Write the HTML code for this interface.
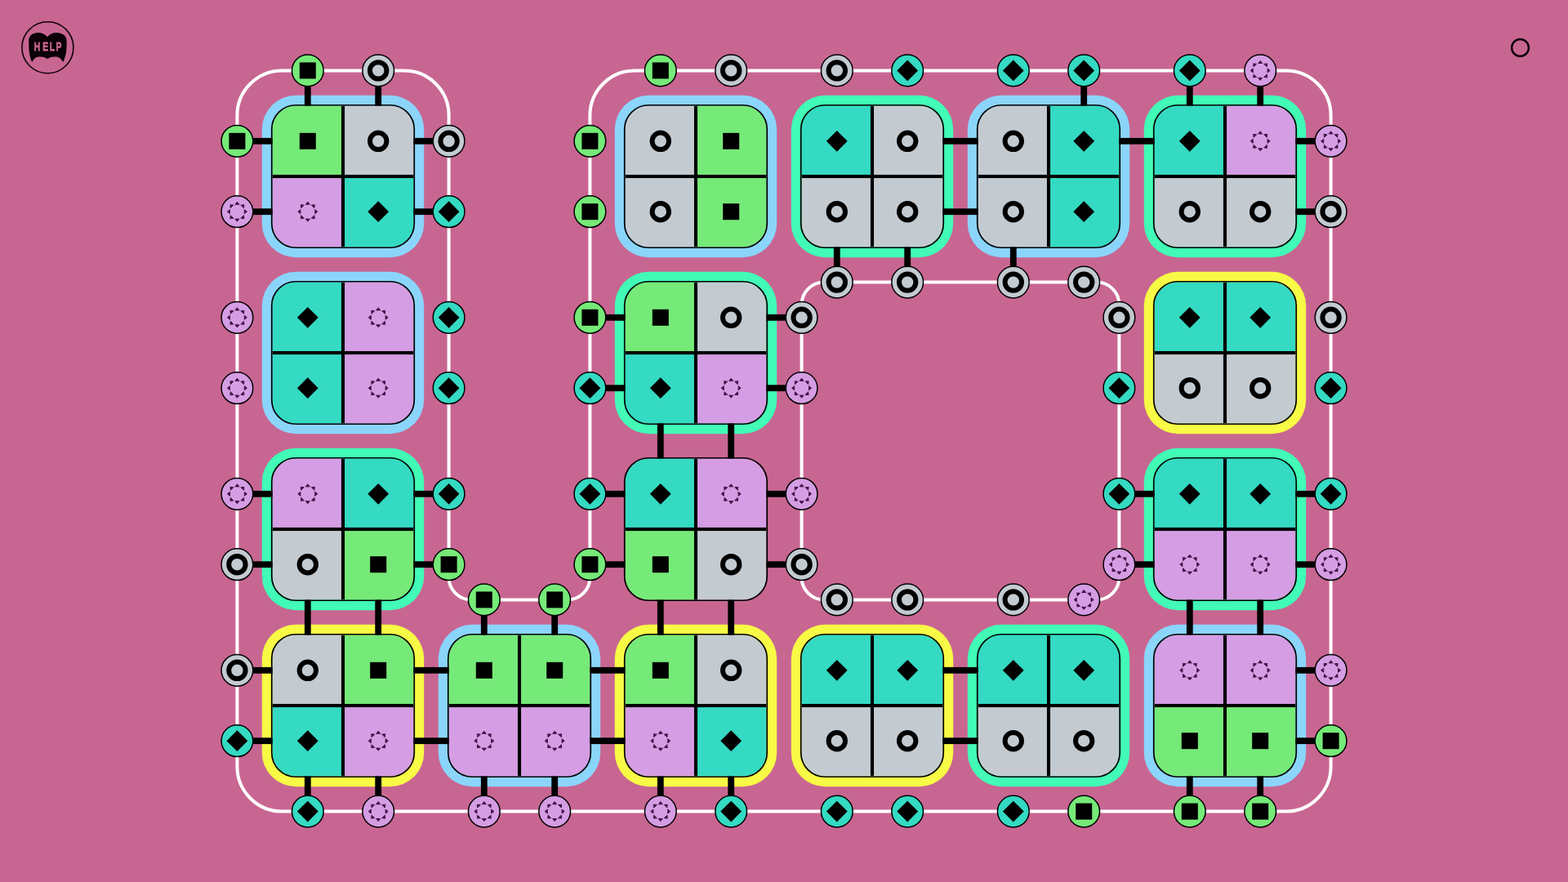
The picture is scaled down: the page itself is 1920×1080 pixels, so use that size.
<!DOCTYPE html>
<html lang="en">
<head>
<meta charset="utf-8">
<title>Puzzle</title>
<style>
html,body{margin:0;padding:0;width:1920px;height:1080px;overflow:hidden;background:#c86692;}
svg{display:block;position:absolute;left:0;top:0;}
text{font-family:"Liberation Sans",sans-serif;}
</style>
</head>
<body>
<svg width="1920" height="1080" viewBox="0 0 1920 1080">
<rect width="1920" height="1080" fill="#c86692"/>
<g fill="none" stroke="#fff" stroke-width="4">
<path d="M290.4 141.4A55 55 0 0 1 345.4 86.4L494.6 86.4A55 55 0 0 1 549.6 141.4L549.6 706.9A27.5 27.5 0 0 0 577.1 734.4L694.9 734.4A27.5 27.5 0 0 0 722.4 706.9L722.4 141.4A55 55 0 0 1 777.4 86.4L1574.6 86.4A55 55 0 0 1 1629.6 141.4L1629.6 938.6A55 55 0 0 1 1574.6 993.6L345.4 993.6A55 55 0 0 1 290.4 938.6Z"/>
<path d="M1009.1 345.6H1342.9A27.5 27.5 0 0 1 1370.4 373.1V706.9A27.5 27.5 0 0 1 1342.9 734.4H1009.1A27.5 27.5 0 0 1 981.6 706.9V373.1A27.5 27.5 0 0 1 1009.1 345.6Z"/>
</g>
<g>
<rect x="320.8" y="116.8" width="198.4" height="198.4" rx="41.5" fill="#8bd5fb"/>
<rect x="752.8" y="116.8" width="198.4" height="198.4" rx="41.5" fill="#8bd5fb"/>
<rect x="968.8" y="116.8" width="198.4" height="198.4" rx="41.5" fill="#42fbb6"/>
<rect x="1184.8" y="116.8" width="198.4" height="198.4" rx="41.5" fill="#8bd5fb"/>
<rect x="1400.8" y="116.8" width="198.4" height="198.4" rx="41.5" fill="#42fbb6"/>
<rect x="320.8" y="332.8" width="198.4" height="198.4" rx="41.5" fill="#8bd5fb"/>
<rect x="752.8" y="332.8" width="198.4" height="198.4" rx="41.5" fill="#42fbb6"/>
<rect x="1400.8" y="332.8" width="198.4" height="198.4" rx="41.5" fill="#f8fb45"/>
<rect x="320.8" y="548.8" width="198.4" height="198.4" rx="41.5" fill="#42fbb6"/>
<rect x="1400.8" y="548.8" width="198.4" height="198.4" rx="41.5" fill="#42fbb6"/>
<rect x="320.8" y="764.8" width="198.4" height="198.4" rx="41.5" fill="#f8fb45"/>
<rect x="536.8" y="764.8" width="198.4" height="198.4" rx="41.5" fill="#8bd5fb"/>
<rect x="752.8" y="764.8" width="198.4" height="198.4" rx="41.5" fill="#f8fb45"/>
<rect x="968.8" y="764.8" width="198.4" height="198.4" rx="41.5" fill="#f8fb45"/>
<rect x="1184.8" y="764.8" width="198.4" height="198.4" rx="41.5" fill="#42fbb6"/>
<rect x="1400.8" y="764.8" width="198.4" height="198.4" rx="41.5" fill="#8bd5fb"/>
</g>
<g fill="#000000">
<rect x="372.9" y="86.4" width="7.8" height="45.2"/>
<rect x="459.3" y="86.4" width="7.8" height="45.2"/>
<rect x="1323.3" y="86.4" width="7.8" height="45.2"/>
<rect x="1452.9" y="86.4" width="7.8" height="45.2"/>
<rect x="1539.3" y="86.4" width="7.8" height="45.2"/>
<rect x="290.4" y="168.9" width="45.2" height="7.8"/>
<rect x="290.4" y="255.3" width="45.2" height="7.8"/>
<rect x="290.4" y="600.9" width="45.2" height="7.8"/>
<rect x="290.4" y="687.3" width="45.2" height="7.8"/>
<rect x="290.4" y="816.9" width="45.2" height="7.8"/>
<rect x="290.4" y="903.3" width="45.2" height="7.8"/>
<rect x="372.9" y="948.4" width="7.8" height="45.2"/>
<rect x="459.3" y="948.4" width="7.8" height="45.2"/>
<rect x="588.9" y="948.4" width="7.8" height="45.2"/>
<rect x="675.3" y="948.4" width="7.8" height="45.2"/>
<rect x="804.9" y="948.4" width="7.8" height="45.2"/>
<rect x="891.3" y="948.4" width="7.8" height="45.2"/>
<rect x="1452.9" y="948.4" width="7.8" height="45.2"/>
<rect x="1539.3" y="948.4" width="7.8" height="45.2"/>
<rect x="1584.4" y="168.9" width="45.2" height="7.8"/>
<rect x="1584.4" y="255.3" width="45.2" height="7.8"/>
<rect x="1584.4" y="600.9" width="45.2" height="7.8"/>
<rect x="1584.4" y="687.3" width="45.2" height="7.8"/>
<rect x="1584.4" y="816.9" width="45.2" height="7.8"/>
<rect x="1584.4" y="903.3" width="45.2" height="7.8"/>
<rect x="504.4" y="168.9" width="45.2" height="7.8"/>
<rect x="504.4" y="255.3" width="45.2" height="7.8"/>
<rect x="504.4" y="600.9" width="45.2" height="7.8"/>
<rect x="504.4" y="687.3" width="45.2" height="7.8"/>
<rect x="588.9" y="734.4" width="7.8" height="45.2"/>
<rect x="675.3" y="734.4" width="7.8" height="45.2"/>
<rect x="722.4" y="384.9" width="45.2" height="7.8"/>
<rect x="722.4" y="471.3" width="45.2" height="7.8"/>
<rect x="722.4" y="600.9" width="45.2" height="7.8"/>
<rect x="722.4" y="687.3" width="45.2" height="7.8"/>
<rect x="1020.9" y="300.4" width="7.8" height="45.2"/>
<rect x="1107.3" y="300.4" width="7.8" height="45.2"/>
<rect x="1236.9" y="300.4" width="7.8" height="45.2"/>
<rect x="936.4" y="384.9" width="45.2" height="7.8"/>
<rect x="936.4" y="471.3" width="45.2" height="7.8"/>
<rect x="936.4" y="600.9" width="45.2" height="7.8"/>
<rect x="936.4" y="687.3" width="45.2" height="7.8"/>
<rect x="1370.4" y="600.9" width="45.2" height="7.8"/>
<rect x="1370.4" y="687.3" width="45.2" height="7.8"/>
<rect x="1152.4" y="168.9" width="47.2" height="7.8"/>
<rect x="1152.4" y="255.3" width="47.2" height="7.8"/>
<rect x="1368.4" y="168.9" width="47.2" height="7.8"/>
<rect x="804.9" y="516.4" width="7.8" height="47.2"/>
<rect x="891.3" y="516.4" width="7.8" height="47.2"/>
<rect x="372.9" y="732.4" width="7.8" height="47.2"/>
<rect x="459.3" y="732.4" width="7.8" height="47.2"/>
<rect x="804.9" y="732.4" width="7.8" height="47.2"/>
<rect x="891.3" y="732.4" width="7.8" height="47.2"/>
<rect x="1452.9" y="732.4" width="7.8" height="47.2"/>
<rect x="1539.3" y="732.4" width="7.8" height="47.2"/>
<rect x="504.4" y="816.9" width="47.2" height="7.8"/>
<rect x="504.4" y="903.3" width="47.2" height="7.8"/>
<rect x="720.4" y="816.9" width="47.2" height="7.8"/>
<rect x="720.4" y="903.3" width="47.2" height="7.8"/>
<rect x="1152.4" y="816.9" width="47.2" height="7.8"/>
<rect x="1152.4" y="903.3" width="47.2" height="7.8"/>
</g>
<clipPath id="t0"><rect x="333.6" y="129.6" width="172.8" height="172.8" rx="28.7"/></clipPath>
<g clip-path="url(#t0)">
<rect x="332.6" y="128.6" width="87.4" height="87.4" fill="#76ea78"/>
<rect x="420" y="128.6" width="87.4" height="87.4" fill="#c3cbd1"/>
<rect x="332.6" y="216" width="87.4" height="87.4" fill="#d59de3"/>
<rect x="420" y="216" width="87.4" height="87.4" fill="#34dac2"/>
<rect x="417.95" y="129.6" width="4.1" height="172.8" fill="#000000"/>
<rect x="333.6" y="213.95" width="172.8" height="4.1" fill="#000000"/>
</g>
<rect x="332.75" y="128.75" width="174.5" height="174.5" rx="29.55" fill="none" stroke="#000000" stroke-width="1.7"/>
<rect x="366.8" y="162.8" width="20" height="20" fill="#000000"/>
<circle cx="463.2" cy="172.8" r="10.2" fill="none" stroke="#000000" stroke-width="6"/>
<path transform="translate(376.8 259.2)" d="M0 -12L2.5 -8.9L-2.5 -8.9ZM8.49 -8.49L8.06 -4.53L4.53 -8.06ZM12 0L8.9 2.5L8.9 -2.5ZM8.49 8.49L4.53 8.06L8.06 4.53ZM0 12L-2.5 8.9L2.5 8.9ZM-8.49 8.49L-8.06 4.53L-4.53 8.06ZM-12 0L-8.9 -2.5L-8.9 2.5ZM-8.49 -8.49L-4.53 -8.06L-8.06 -4.53Z" fill="#43154a" stroke="#43154a" stroke-width="1.0" stroke-linejoin="round"/>
<path d="M463.2 246.3L476.1 259.2L463.2 272.1L450.3 259.2Z" fill="#000000"/>
<clipPath id="t1"><rect x="765.6" y="129.6" width="172.8" height="172.8" rx="28.7"/></clipPath>
<g clip-path="url(#t1)">
<rect x="764.6" y="128.6" width="87.4" height="87.4" fill="#c3cbd1"/>
<rect x="852" y="128.6" width="87.4" height="87.4" fill="#76ea78"/>
<rect x="764.6" y="216" width="87.4" height="87.4" fill="#c3cbd1"/>
<rect x="852" y="216" width="87.4" height="87.4" fill="#76ea78"/>
<rect x="849.95" y="129.6" width="4.1" height="172.8" fill="#000000"/>
<rect x="765.6" y="213.95" width="172.8" height="4.1" fill="#000000"/>
</g>
<rect x="764.75" y="128.75" width="174.5" height="174.5" rx="29.55" fill="none" stroke="#000000" stroke-width="1.7"/>
<circle cx="808.8" cy="172.8" r="10.2" fill="none" stroke="#000000" stroke-width="6"/>
<rect x="885.2" y="162.8" width="20" height="20" fill="#000000"/>
<circle cx="808.8" cy="259.2" r="10.2" fill="none" stroke="#000000" stroke-width="6"/>
<rect x="885.2" y="249.2" width="20" height="20" fill="#000000"/>
<clipPath id="t2"><rect x="981.6" y="129.6" width="172.8" height="172.8" rx="28.7"/></clipPath>
<g clip-path="url(#t2)">
<rect x="980.6" y="128.6" width="87.4" height="87.4" fill="#34dac2"/>
<rect x="1068" y="128.6" width="87.4" height="87.4" fill="#c3cbd1"/>
<rect x="980.6" y="216" width="87.4" height="87.4" fill="#c3cbd1"/>
<rect x="1068" y="216" width="87.4" height="87.4" fill="#c3cbd1"/>
<rect x="1065.95" y="129.6" width="4.1" height="172.8" fill="#000000"/>
<rect x="981.6" y="213.95" width="172.8" height="4.1" fill="#000000"/>
</g>
<rect x="980.75" y="128.75" width="174.5" height="174.5" rx="29.55" fill="none" stroke="#000000" stroke-width="1.7"/>
<path d="M1024.8 159.9L1037.7 172.8L1024.8 185.7L1011.9 172.8Z" fill="#000000"/>
<circle cx="1111.2" cy="172.8" r="10.2" fill="none" stroke="#000000" stroke-width="6"/>
<circle cx="1024.8" cy="259.2" r="10.2" fill="none" stroke="#000000" stroke-width="6"/>
<circle cx="1111.2" cy="259.2" r="10.2" fill="none" stroke="#000000" stroke-width="6"/>
<clipPath id="t3"><rect x="1197.6" y="129.6" width="172.8" height="172.8" rx="28.7"/></clipPath>
<g clip-path="url(#t3)">
<rect x="1196.6" y="128.6" width="87.4" height="87.4" fill="#c3cbd1"/>
<rect x="1284" y="128.6" width="87.4" height="87.4" fill="#34dac2"/>
<rect x="1196.6" y="216" width="87.4" height="87.4" fill="#c3cbd1"/>
<rect x="1284" y="216" width="87.4" height="87.4" fill="#34dac2"/>
<rect x="1281.95" y="129.6" width="4.1" height="172.8" fill="#000000"/>
<rect x="1197.6" y="213.95" width="172.8" height="4.1" fill="#000000"/>
</g>
<rect x="1196.75" y="128.75" width="174.5" height="174.5" rx="29.55" fill="none" stroke="#000000" stroke-width="1.7"/>
<circle cx="1240.8" cy="172.8" r="10.2" fill="none" stroke="#000000" stroke-width="6"/>
<path d="M1327.2 159.9L1340.1 172.8L1327.2 185.7L1314.3 172.8Z" fill="#000000"/>
<circle cx="1240.8" cy="259.2" r="10.2" fill="none" stroke="#000000" stroke-width="6"/>
<path d="M1327.2 246.3L1340.1 259.2L1327.2 272.1L1314.3 259.2Z" fill="#000000"/>
<clipPath id="t4"><rect x="1413.6" y="129.6" width="172.8" height="172.8" rx="28.7"/></clipPath>
<g clip-path="url(#t4)">
<rect x="1412.6" y="128.6" width="87.4" height="87.4" fill="#34dac2"/>
<rect x="1500" y="128.6" width="87.4" height="87.4" fill="#d59de3"/>
<rect x="1412.6" y="216" width="87.4" height="87.4" fill="#c3cbd1"/>
<rect x="1500" y="216" width="87.4" height="87.4" fill="#c3cbd1"/>
<rect x="1497.95" y="129.6" width="4.1" height="172.8" fill="#000000"/>
<rect x="1413.6" y="213.95" width="172.8" height="4.1" fill="#000000"/>
</g>
<rect x="1412.75" y="128.75" width="174.5" height="174.5" rx="29.55" fill="none" stroke="#000000" stroke-width="1.7"/>
<path d="M1456.8 159.9L1469.7 172.8L1456.8 185.7L1443.9 172.8Z" fill="#000000"/>
<path transform="translate(1543.2 172.8)" d="M0 -12L2.5 -8.9L-2.5 -8.9ZM8.49 -8.49L8.06 -4.53L4.53 -8.06ZM12 0L8.9 2.5L8.9 -2.5ZM8.49 8.49L4.53 8.06L8.06 4.53ZM0 12L-2.5 8.9L2.5 8.9ZM-8.49 8.49L-8.06 4.53L-4.53 8.06ZM-12 0L-8.9 -2.5L-8.9 2.5ZM-8.49 -8.49L-4.53 -8.06L-8.06 -4.53Z" fill="#43154a" stroke="#43154a" stroke-width="1.0" stroke-linejoin="round"/>
<circle cx="1456.8" cy="259.2" r="10.2" fill="none" stroke="#000000" stroke-width="6"/>
<circle cx="1543.2" cy="259.2" r="10.2" fill="none" stroke="#000000" stroke-width="6"/>
<clipPath id="t5"><rect x="333.6" y="345.6" width="172.8" height="172.8" rx="28.7"/></clipPath>
<g clip-path="url(#t5)">
<rect x="332.6" y="344.6" width="87.4" height="87.4" fill="#34dac2"/>
<rect x="420" y="344.6" width="87.4" height="87.4" fill="#d59de3"/>
<rect x="332.6" y="432" width="87.4" height="87.4" fill="#34dac2"/>
<rect x="420" y="432" width="87.4" height="87.4" fill="#d59de3"/>
<rect x="417.95" y="345.6" width="4.1" height="172.8" fill="#000000"/>
<rect x="333.6" y="429.95" width="172.8" height="4.1" fill="#000000"/>
</g>
<rect x="332.75" y="344.75" width="174.5" height="174.5" rx="29.55" fill="none" stroke="#000000" stroke-width="1.7"/>
<path d="M376.8 375.9L389.7 388.8L376.8 401.7L363.9 388.8Z" fill="#000000"/>
<path transform="translate(463.2 388.8)" d="M0 -12L2.5 -8.9L-2.5 -8.9ZM8.49 -8.49L8.06 -4.53L4.53 -8.06ZM12 0L8.9 2.5L8.9 -2.5ZM8.49 8.49L4.53 8.06L8.06 4.53ZM0 12L-2.5 8.9L2.5 8.9ZM-8.49 8.49L-8.06 4.53L-4.53 8.06ZM-12 0L-8.9 -2.5L-8.9 2.5ZM-8.49 -8.49L-4.53 -8.06L-8.06 -4.53Z" fill="#43154a" stroke="#43154a" stroke-width="1.0" stroke-linejoin="round"/>
<path d="M376.8 462.3L389.7 475.2L376.8 488.1L363.9 475.2Z" fill="#000000"/>
<path transform="translate(463.2 475.2)" d="M0 -12L2.5 -8.9L-2.5 -8.9ZM8.49 -8.49L8.06 -4.53L4.53 -8.06ZM12 0L8.9 2.5L8.9 -2.5ZM8.49 8.49L4.53 8.06L8.06 4.53ZM0 12L-2.5 8.9L2.5 8.9ZM-8.49 8.49L-8.06 4.53L-4.53 8.06ZM-12 0L-8.9 -2.5L-8.9 2.5ZM-8.49 -8.49L-4.53 -8.06L-8.06 -4.53Z" fill="#43154a" stroke="#43154a" stroke-width="1.0" stroke-linejoin="round"/>
<clipPath id="t6"><rect x="765.6" y="345.6" width="172.8" height="172.8" rx="28.7"/></clipPath>
<g clip-path="url(#t6)">
<rect x="764.6" y="344.6" width="87.4" height="87.4" fill="#76ea78"/>
<rect x="852" y="344.6" width="87.4" height="87.4" fill="#c3cbd1"/>
<rect x="764.6" y="432" width="87.4" height="87.4" fill="#34dac2"/>
<rect x="852" y="432" width="87.4" height="87.4" fill="#d59de3"/>
<rect x="849.95" y="345.6" width="4.1" height="172.8" fill="#000000"/>
<rect x="765.6" y="429.95" width="172.8" height="4.1" fill="#000000"/>
</g>
<rect x="764.75" y="344.75" width="174.5" height="174.5" rx="29.55" fill="none" stroke="#000000" stroke-width="1.7"/>
<rect x="798.8" y="378.8" width="20" height="20" fill="#000000"/>
<circle cx="895.2" cy="388.8" r="10.2" fill="none" stroke="#000000" stroke-width="6"/>
<path d="M808.8 462.3L821.7 475.2L808.8 488.1L795.9 475.2Z" fill="#000000"/>
<path transform="translate(895.2 475.2)" d="M0 -12L2.5 -8.9L-2.5 -8.9ZM8.49 -8.49L8.06 -4.53L4.53 -8.06ZM12 0L8.9 2.5L8.9 -2.5ZM8.49 8.49L4.53 8.06L8.06 4.53ZM0 12L-2.5 8.9L2.5 8.9ZM-8.49 8.49L-8.06 4.53L-4.53 8.06ZM-12 0L-8.9 -2.5L-8.9 2.5ZM-8.49 -8.49L-4.53 -8.06L-8.06 -4.53Z" fill="#43154a" stroke="#43154a" stroke-width="1.0" stroke-linejoin="round"/>
<clipPath id="t7"><rect x="1413.6" y="345.6" width="172.8" height="172.8" rx="28.7"/></clipPath>
<g clip-path="url(#t7)">
<rect x="1412.6" y="344.6" width="87.4" height="87.4" fill="#34dac2"/>
<rect x="1500" y="344.6" width="87.4" height="87.4" fill="#34dac2"/>
<rect x="1412.6" y="432" width="87.4" height="87.4" fill="#c3cbd1"/>
<rect x="1500" y="432" width="87.4" height="87.4" fill="#c3cbd1"/>
<rect x="1497.95" y="345.6" width="4.1" height="172.8" fill="#000000"/>
<rect x="1413.6" y="429.95" width="172.8" height="4.1" fill="#000000"/>
</g>
<rect x="1412.75" y="344.75" width="174.5" height="174.5" rx="29.55" fill="none" stroke="#000000" stroke-width="1.7"/>
<path d="M1456.8 375.9L1469.7 388.8L1456.8 401.7L1443.9 388.8Z" fill="#000000"/>
<path d="M1543.2 375.9L1556.1 388.8L1543.2 401.7L1530.3 388.8Z" fill="#000000"/>
<circle cx="1456.8" cy="475.2" r="10.2" fill="none" stroke="#000000" stroke-width="6"/>
<circle cx="1543.2" cy="475.2" r="10.2" fill="none" stroke="#000000" stroke-width="6"/>
<clipPath id="t8"><rect x="333.6" y="561.6" width="172.8" height="172.8" rx="28.7"/></clipPath>
<g clip-path="url(#t8)">
<rect x="332.6" y="560.6" width="87.4" height="87.4" fill="#d59de3"/>
<rect x="420" y="560.6" width="87.4" height="87.4" fill="#34dac2"/>
<rect x="332.6" y="648" width="87.4" height="87.4" fill="#c3cbd1"/>
<rect x="420" y="648" width="87.4" height="87.4" fill="#76ea78"/>
<rect x="417.95" y="561.6" width="4.1" height="172.8" fill="#000000"/>
<rect x="333.6" y="645.95" width="172.8" height="4.1" fill="#000000"/>
</g>
<rect x="332.75" y="560.75" width="174.5" height="174.5" rx="29.55" fill="none" stroke="#000000" stroke-width="1.7"/>
<path transform="translate(376.8 604.8)" d="M0 -12L2.5 -8.9L-2.5 -8.9ZM8.49 -8.49L8.06 -4.53L4.53 -8.06ZM12 0L8.9 2.5L8.9 -2.5ZM8.49 8.49L4.53 8.06L8.06 4.53ZM0 12L-2.5 8.9L2.5 8.9ZM-8.49 8.49L-8.06 4.53L-4.53 8.06ZM-12 0L-8.9 -2.5L-8.9 2.5ZM-8.49 -8.49L-4.53 -8.06L-8.06 -4.53Z" fill="#43154a" stroke="#43154a" stroke-width="1.0" stroke-linejoin="round"/>
<path d="M463.2 591.9L476.1 604.8L463.2 617.7L450.3 604.8Z" fill="#000000"/>
<circle cx="376.8" cy="691.2" r="10.2" fill="none" stroke="#000000" stroke-width="6"/>
<rect x="453.2" y="681.2" width="20" height="20" fill="#000000"/>
<clipPath id="t9"><rect x="765.6" y="561.6" width="172.8" height="172.8" rx="28.7"/></clipPath>
<g clip-path="url(#t9)">
<rect x="764.6" y="560.6" width="87.4" height="87.4" fill="#34dac2"/>
<rect x="852" y="560.6" width="87.4" height="87.4" fill="#d59de3"/>
<rect x="764.6" y="648" width="87.4" height="87.4" fill="#76ea78"/>
<rect x="852" y="648" width="87.4" height="87.4" fill="#c3cbd1"/>
<rect x="849.95" y="561.6" width="4.1" height="172.8" fill="#000000"/>
<rect x="765.6" y="645.95" width="172.8" height="4.1" fill="#000000"/>
</g>
<rect x="764.75" y="560.75" width="174.5" height="174.5" rx="29.55" fill="none" stroke="#000000" stroke-width="1.7"/>
<path d="M808.8 591.9L821.7 604.8L808.8 617.7L795.9 604.8Z" fill="#000000"/>
<path transform="translate(895.2 604.8)" d="M0 -12L2.5 -8.9L-2.5 -8.9ZM8.49 -8.49L8.06 -4.53L4.53 -8.06ZM12 0L8.9 2.5L8.9 -2.5ZM8.49 8.49L4.53 8.06L8.06 4.53ZM0 12L-2.5 8.9L2.5 8.9ZM-8.49 8.49L-8.06 4.53L-4.53 8.06ZM-12 0L-8.9 -2.5L-8.9 2.5ZM-8.49 -8.49L-4.53 -8.06L-8.06 -4.53Z" fill="#43154a" stroke="#43154a" stroke-width="1.0" stroke-linejoin="round"/>
<rect x="798.8" y="681.2" width="20" height="20" fill="#000000"/>
<circle cx="895.2" cy="691.2" r="10.2" fill="none" stroke="#000000" stroke-width="6"/>
<clipPath id="t10"><rect x="1413.6" y="561.6" width="172.8" height="172.8" rx="28.7"/></clipPath>
<g clip-path="url(#t10)">
<rect x="1412.6" y="560.6" width="87.4" height="87.4" fill="#34dac2"/>
<rect x="1500" y="560.6" width="87.4" height="87.4" fill="#34dac2"/>
<rect x="1412.6" y="648" width="87.4" height="87.4" fill="#d59de3"/>
<rect x="1500" y="648" width="87.4" height="87.4" fill="#d59de3"/>
<rect x="1497.95" y="561.6" width="4.1" height="172.8" fill="#000000"/>
<rect x="1413.6" y="645.95" width="172.8" height="4.1" fill="#000000"/>
</g>
<rect x="1412.75" y="560.75" width="174.5" height="174.5" rx="29.55" fill="none" stroke="#000000" stroke-width="1.7"/>
<path d="M1456.8 591.9L1469.7 604.8L1456.8 617.7L1443.9 604.8Z" fill="#000000"/>
<path d="M1543.2 591.9L1556.1 604.8L1543.2 617.7L1530.3 604.8Z" fill="#000000"/>
<path transform="translate(1456.8 691.2)" d="M0 -12L2.5 -8.9L-2.5 -8.9ZM8.49 -8.49L8.06 -4.53L4.53 -8.06ZM12 0L8.9 2.5L8.9 -2.5ZM8.49 8.49L4.53 8.06L8.06 4.53ZM0 12L-2.5 8.9L2.5 8.9ZM-8.49 8.49L-8.06 4.53L-4.53 8.06ZM-12 0L-8.9 -2.5L-8.9 2.5ZM-8.49 -8.49L-4.53 -8.06L-8.06 -4.53Z" fill="#43154a" stroke="#43154a" stroke-width="1.0" stroke-linejoin="round"/>
<path transform="translate(1543.2 691.2)" d="M0 -12L2.5 -8.9L-2.5 -8.9ZM8.49 -8.49L8.06 -4.53L4.53 -8.06ZM12 0L8.9 2.5L8.9 -2.5ZM8.49 8.49L4.53 8.06L8.06 4.53ZM0 12L-2.5 8.9L2.5 8.9ZM-8.49 8.49L-8.06 4.53L-4.53 8.06ZM-12 0L-8.9 -2.5L-8.9 2.5ZM-8.49 -8.49L-4.53 -8.06L-8.06 -4.53Z" fill="#43154a" stroke="#43154a" stroke-width="1.0" stroke-linejoin="round"/>
<clipPath id="t11"><rect x="333.6" y="777.6" width="172.8" height="172.8" rx="28.7"/></clipPath>
<g clip-path="url(#t11)">
<rect x="332.6" y="776.6" width="87.4" height="87.4" fill="#c3cbd1"/>
<rect x="420" y="776.6" width="87.4" height="87.4" fill="#76ea78"/>
<rect x="332.6" y="864" width="87.4" height="87.4" fill="#34dac2"/>
<rect x="420" y="864" width="87.4" height="87.4" fill="#d59de3"/>
<rect x="417.95" y="777.6" width="4.1" height="172.8" fill="#000000"/>
<rect x="333.6" y="861.95" width="172.8" height="4.1" fill="#000000"/>
</g>
<rect x="332.75" y="776.75" width="174.5" height="174.5" rx="29.55" fill="none" stroke="#000000" stroke-width="1.7"/>
<circle cx="376.8" cy="820.8" r="10.2" fill="none" stroke="#000000" stroke-width="6"/>
<rect x="453.2" y="810.8" width="20" height="20" fill="#000000"/>
<path d="M376.8 894.3L389.7 907.2L376.8 920.1L363.9 907.2Z" fill="#000000"/>
<path transform="translate(463.2 907.2)" d="M0 -12L2.5 -8.9L-2.5 -8.9ZM8.49 -8.49L8.06 -4.53L4.53 -8.06ZM12 0L8.9 2.5L8.9 -2.5ZM8.49 8.49L4.53 8.06L8.06 4.53ZM0 12L-2.5 8.9L2.5 8.9ZM-8.49 8.49L-8.06 4.53L-4.53 8.06ZM-12 0L-8.9 -2.5L-8.9 2.5ZM-8.49 -8.49L-4.53 -8.06L-8.06 -4.53Z" fill="#43154a" stroke="#43154a" stroke-width="1.0" stroke-linejoin="round"/>
<clipPath id="t12"><rect x="549.6" y="777.6" width="172.8" height="172.8" rx="28.7"/></clipPath>
<g clip-path="url(#t12)">
<rect x="548.6" y="776.6" width="87.4" height="87.4" fill="#76ea78"/>
<rect x="636" y="776.6" width="87.4" height="87.4" fill="#76ea78"/>
<rect x="548.6" y="864" width="87.4" height="87.4" fill="#d59de3"/>
<rect x="636" y="864" width="87.4" height="87.4" fill="#d59de3"/>
<rect x="633.95" y="777.6" width="4.1" height="172.8" fill="#000000"/>
<rect x="549.6" y="861.95" width="172.8" height="4.1" fill="#000000"/>
</g>
<rect x="548.75" y="776.75" width="174.5" height="174.5" rx="29.55" fill="none" stroke="#000000" stroke-width="1.7"/>
<rect x="582.8" y="810.8" width="20" height="20" fill="#000000"/>
<rect x="669.2" y="810.8" width="20" height="20" fill="#000000"/>
<path transform="translate(592.8 907.2)" d="M0 -12L2.5 -8.9L-2.5 -8.9ZM8.49 -8.49L8.06 -4.53L4.53 -8.06ZM12 0L8.9 2.5L8.9 -2.5ZM8.49 8.49L4.53 8.06L8.06 4.53ZM0 12L-2.5 8.9L2.5 8.9ZM-8.49 8.49L-8.06 4.53L-4.53 8.06ZM-12 0L-8.9 -2.5L-8.9 2.5ZM-8.49 -8.49L-4.53 -8.06L-8.06 -4.53Z" fill="#43154a" stroke="#43154a" stroke-width="1.0" stroke-linejoin="round"/>
<path transform="translate(679.2 907.2)" d="M0 -12L2.5 -8.9L-2.5 -8.9ZM8.49 -8.49L8.06 -4.53L4.53 -8.06ZM12 0L8.9 2.5L8.9 -2.5ZM8.49 8.49L4.53 8.06L8.06 4.53ZM0 12L-2.5 8.9L2.5 8.9ZM-8.49 8.49L-8.06 4.53L-4.53 8.06ZM-12 0L-8.9 -2.5L-8.9 2.5ZM-8.49 -8.49L-4.53 -8.06L-8.06 -4.53Z" fill="#43154a" stroke="#43154a" stroke-width="1.0" stroke-linejoin="round"/>
<clipPath id="t13"><rect x="765.6" y="777.6" width="172.8" height="172.8" rx="28.7"/></clipPath>
<g clip-path="url(#t13)">
<rect x="764.6" y="776.6" width="87.4" height="87.4" fill="#76ea78"/>
<rect x="852" y="776.6" width="87.4" height="87.4" fill="#c3cbd1"/>
<rect x="764.6" y="864" width="87.4" height="87.4" fill="#d59de3"/>
<rect x="852" y="864" width="87.4" height="87.4" fill="#34dac2"/>
<rect x="849.95" y="777.6" width="4.1" height="172.8" fill="#000000"/>
<rect x="765.6" y="861.95" width="172.8" height="4.1" fill="#000000"/>
</g>
<rect x="764.75" y="776.75" width="174.5" height="174.5" rx="29.55" fill="none" stroke="#000000" stroke-width="1.7"/>
<rect x="798.8" y="810.8" width="20" height="20" fill="#000000"/>
<circle cx="895.2" cy="820.8" r="10.2" fill="none" stroke="#000000" stroke-width="6"/>
<path transform="translate(808.8 907.2)" d="M0 -12L2.5 -8.9L-2.5 -8.9ZM8.49 -8.49L8.06 -4.53L4.53 -8.06ZM12 0L8.9 2.5L8.9 -2.5ZM8.49 8.49L4.53 8.06L8.06 4.53ZM0 12L-2.5 8.9L2.5 8.9ZM-8.49 8.49L-8.06 4.53L-4.53 8.06ZM-12 0L-8.9 -2.5L-8.9 2.5ZM-8.49 -8.49L-4.53 -8.06L-8.06 -4.53Z" fill="#43154a" stroke="#43154a" stroke-width="1.0" stroke-linejoin="round"/>
<path d="M895.2 894.3L908.1 907.2L895.2 920.1L882.3 907.2Z" fill="#000000"/>
<clipPath id="t14"><rect x="981.6" y="777.6" width="172.8" height="172.8" rx="28.7"/></clipPath>
<g clip-path="url(#t14)">
<rect x="980.6" y="776.6" width="87.4" height="87.4" fill="#34dac2"/>
<rect x="1068" y="776.6" width="87.4" height="87.4" fill="#34dac2"/>
<rect x="980.6" y="864" width="87.4" height="87.4" fill="#c3cbd1"/>
<rect x="1068" y="864" width="87.4" height="87.4" fill="#c3cbd1"/>
<rect x="1065.95" y="777.6" width="4.1" height="172.8" fill="#000000"/>
<rect x="981.6" y="861.95" width="172.8" height="4.1" fill="#000000"/>
</g>
<rect x="980.75" y="776.75" width="174.5" height="174.5" rx="29.55" fill="none" stroke="#000000" stroke-width="1.7"/>
<path d="M1024.8 807.9L1037.7 820.8L1024.8 833.7L1011.9 820.8Z" fill="#000000"/>
<path d="M1111.2 807.9L1124.1 820.8L1111.2 833.7L1098.3 820.8Z" fill="#000000"/>
<circle cx="1024.8" cy="907.2" r="10.2" fill="none" stroke="#000000" stroke-width="6"/>
<circle cx="1111.2" cy="907.2" r="10.2" fill="none" stroke="#000000" stroke-width="6"/>
<clipPath id="t15"><rect x="1197.6" y="777.6" width="172.8" height="172.8" rx="28.7"/></clipPath>
<g clip-path="url(#t15)">
<rect x="1196.6" y="776.6" width="87.4" height="87.4" fill="#34dac2"/>
<rect x="1284" y="776.6" width="87.4" height="87.4" fill="#34dac2"/>
<rect x="1196.6" y="864" width="87.4" height="87.4" fill="#c3cbd1"/>
<rect x="1284" y="864" width="87.4" height="87.4" fill="#c3cbd1"/>
<rect x="1281.95" y="777.6" width="4.1" height="172.8" fill="#000000"/>
<rect x="1197.6" y="861.95" width="172.8" height="4.1" fill="#000000"/>
</g>
<rect x="1196.75" y="776.75" width="174.5" height="174.5" rx="29.55" fill="none" stroke="#000000" stroke-width="1.7"/>
<path d="M1240.8 807.9L1253.7 820.8L1240.8 833.7L1227.9 820.8Z" fill="#000000"/>
<path d="M1327.2 807.9L1340.1 820.8L1327.2 833.7L1314.3 820.8Z" fill="#000000"/>
<circle cx="1240.8" cy="907.2" r="10.2" fill="none" stroke="#000000" stroke-width="6"/>
<circle cx="1327.2" cy="907.2" r="10.2" fill="none" stroke="#000000" stroke-width="6"/>
<clipPath id="t16"><rect x="1413.6" y="777.6" width="172.8" height="172.8" rx="28.7"/></clipPath>
<g clip-path="url(#t16)">
<rect x="1412.6" y="776.6" width="87.4" height="87.4" fill="#d59de3"/>
<rect x="1500" y="776.6" width="87.4" height="87.4" fill="#d59de3"/>
<rect x="1412.6" y="864" width="87.4" height="87.4" fill="#76ea78"/>
<rect x="1500" y="864" width="87.4" height="87.4" fill="#76ea78"/>
<rect x="1497.95" y="777.6" width="4.1" height="172.8" fill="#000000"/>
<rect x="1413.6" y="861.95" width="172.8" height="4.1" fill="#000000"/>
</g>
<rect x="1412.75" y="776.75" width="174.5" height="174.5" rx="29.55" fill="none" stroke="#000000" stroke-width="1.7"/>
<path transform="translate(1456.8 820.8)" d="M0 -12L2.5 -8.9L-2.5 -8.9ZM8.49 -8.49L8.06 -4.53L4.53 -8.06ZM12 0L8.9 2.5L8.9 -2.5ZM8.49 8.49L4.53 8.06L8.06 4.53ZM0 12L-2.5 8.9L2.5 8.9ZM-8.49 8.49L-8.06 4.53L-4.53 8.06ZM-12 0L-8.9 -2.5L-8.9 2.5ZM-8.49 -8.49L-4.53 -8.06L-8.06 -4.53Z" fill="#43154a" stroke="#43154a" stroke-width="1.0" stroke-linejoin="round"/>
<path transform="translate(1543.2 820.8)" d="M0 -12L2.5 -8.9L-2.5 -8.9ZM8.49 -8.49L8.06 -4.53L4.53 -8.06ZM12 0L8.9 2.5L8.9 -2.5ZM8.49 8.49L4.53 8.06L8.06 4.53ZM0 12L-2.5 8.9L2.5 8.9ZM-8.49 8.49L-8.06 4.53L-4.53 8.06ZM-12 0L-8.9 -2.5L-8.9 2.5ZM-8.49 -8.49L-4.53 -8.06L-8.06 -4.53Z" fill="#43154a" stroke="#43154a" stroke-width="1.0" stroke-linejoin="round"/>
<rect x="1446.8" y="897.2" width="20" height="20" fill="#000000"/>
<rect x="1533.2" y="897.2" width="20" height="20" fill="#000000"/>
<circle cx="376.8" cy="86.4" r="19.35" fill="#76ea78" stroke="#000000" stroke-width="1.5"/>
<rect x="366.8" y="76.4" width="20" height="20" fill="#000000"/>
<circle cx="463.2" cy="86.4" r="19.35" fill="#c3cbd1" stroke="#000000" stroke-width="1.5"/>
<circle cx="463.2" cy="86.4" r="10.2" fill="none" stroke="#000000" stroke-width="6"/>
<circle cx="808.8" cy="86.4" r="19.35" fill="#76ea78" stroke="#000000" stroke-width="1.5"/>
<rect x="798.8" y="76.4" width="20" height="20" fill="#000000"/>
<circle cx="895.2" cy="86.4" r="19.35" fill="#c3cbd1" stroke="#000000" stroke-width="1.5"/>
<circle cx="895.2" cy="86.4" r="10.2" fill="none" stroke="#000000" stroke-width="6"/>
<circle cx="1024.8" cy="86.4" r="19.35" fill="#c3cbd1" stroke="#000000" stroke-width="1.5"/>
<circle cx="1024.8" cy="86.4" r="10.2" fill="none" stroke="#000000" stroke-width="6"/>
<circle cx="1111.2" cy="86.4" r="19.35" fill="#34dac2" stroke="#000000" stroke-width="1.5"/>
<path d="M1111.2 73.5L1124.1 86.4L1111.2 99.3L1098.3 86.4Z" fill="#000000"/>
<circle cx="1240.8" cy="86.4" r="19.35" fill="#34dac2" stroke="#000000" stroke-width="1.5"/>
<path d="M1240.8 73.5L1253.7 86.4L1240.8 99.3L1227.9 86.4Z" fill="#000000"/>
<circle cx="1327.2" cy="86.4" r="19.35" fill="#34dac2" stroke="#000000" stroke-width="1.5"/>
<path d="M1327.2 73.5L1340.1 86.4L1327.2 99.3L1314.3 86.4Z" fill="#000000"/>
<circle cx="1456.8" cy="86.4" r="19.35" fill="#34dac2" stroke="#000000" stroke-width="1.5"/>
<path d="M1456.8 73.5L1469.7 86.4L1456.8 99.3L1443.9 86.4Z" fill="#000000"/>
<circle cx="1543.2" cy="86.4" r="19.35" fill="#d59de3" stroke="#000000" stroke-width="1.5"/>
<path transform="translate(1543.2 86.4)" d="M0 -12L2.5 -8.9L-2.5 -8.9ZM8.49 -8.49L8.06 -4.53L4.53 -8.06ZM12 0L8.9 2.5L8.9 -2.5ZM8.49 8.49L4.53 8.06L8.06 4.53ZM0 12L-2.5 8.9L2.5 8.9ZM-8.49 8.49L-8.06 4.53L-4.53 8.06ZM-12 0L-8.9 -2.5L-8.9 2.5ZM-8.49 -8.49L-4.53 -8.06L-8.06 -4.53Z" fill="#43154a" stroke="#43154a" stroke-width="1.0" stroke-linejoin="round"/>
<circle cx="290.4" cy="172.8" r="19.35" fill="#76ea78" stroke="#000000" stroke-width="1.5"/>
<rect x="280.4" y="162.8" width="20" height="20" fill="#000000"/>
<circle cx="290.4" cy="259.2" r="19.35" fill="#d59de3" stroke="#000000" stroke-width="1.5"/>
<path transform="translate(290.4 259.2)" d="M0 -12L2.5 -8.9L-2.5 -8.9ZM8.49 -8.49L8.06 -4.53L4.53 -8.06ZM12 0L8.9 2.5L8.9 -2.5ZM8.49 8.49L4.53 8.06L8.06 4.53ZM0 12L-2.5 8.9L2.5 8.9ZM-8.49 8.49L-8.06 4.53L-4.53 8.06ZM-12 0L-8.9 -2.5L-8.9 2.5ZM-8.49 -8.49L-4.53 -8.06L-8.06 -4.53Z" fill="#43154a" stroke="#43154a" stroke-width="1.0" stroke-linejoin="round"/>
<circle cx="290.4" cy="388.8" r="19.35" fill="#d59de3" stroke="#000000" stroke-width="1.5"/>
<path transform="translate(290.4 388.8)" d="M0 -12L2.5 -8.9L-2.5 -8.9ZM8.49 -8.49L8.06 -4.53L4.53 -8.06ZM12 0L8.9 2.5L8.9 -2.5ZM8.49 8.49L4.53 8.06L8.06 4.53ZM0 12L-2.5 8.9L2.5 8.9ZM-8.49 8.49L-8.06 4.53L-4.53 8.06ZM-12 0L-8.9 -2.5L-8.9 2.5ZM-8.49 -8.49L-4.53 -8.06L-8.06 -4.53Z" fill="#43154a" stroke="#43154a" stroke-width="1.0" stroke-linejoin="round"/>
<circle cx="290.4" cy="475.2" r="19.35" fill="#d59de3" stroke="#000000" stroke-width="1.5"/>
<path transform="translate(290.4 475.2)" d="M0 -12L2.5 -8.9L-2.5 -8.9ZM8.49 -8.49L8.06 -4.53L4.53 -8.06ZM12 0L8.9 2.5L8.9 -2.5ZM8.49 8.49L4.53 8.06L8.06 4.53ZM0 12L-2.5 8.9L2.5 8.9ZM-8.49 8.49L-8.06 4.53L-4.53 8.06ZM-12 0L-8.9 -2.5L-8.9 2.5ZM-8.49 -8.49L-4.53 -8.06L-8.06 -4.53Z" fill="#43154a" stroke="#43154a" stroke-width="1.0" stroke-linejoin="round"/>
<circle cx="290.4" cy="604.8" r="19.35" fill="#d59de3" stroke="#000000" stroke-width="1.5"/>
<path transform="translate(290.4 604.8)" d="M0 -12L2.5 -8.9L-2.5 -8.9ZM8.49 -8.49L8.06 -4.53L4.53 -8.06ZM12 0L8.9 2.5L8.9 -2.5ZM8.49 8.49L4.53 8.06L8.06 4.53ZM0 12L-2.5 8.9L2.5 8.9ZM-8.49 8.49L-8.06 4.53L-4.53 8.06ZM-12 0L-8.9 -2.5L-8.9 2.5ZM-8.49 -8.49L-4.53 -8.06L-8.06 -4.53Z" fill="#43154a" stroke="#43154a" stroke-width="1.0" stroke-linejoin="round"/>
<circle cx="290.4" cy="691.2" r="19.35" fill="#c3cbd1" stroke="#000000" stroke-width="1.5"/>
<circle cx="290.4" cy="691.2" r="10.2" fill="none" stroke="#000000" stroke-width="6"/>
<circle cx="290.4" cy="820.8" r="19.35" fill="#c3cbd1" stroke="#000000" stroke-width="1.5"/>
<circle cx="290.4" cy="820.8" r="10.2" fill="none" stroke="#000000" stroke-width="6"/>
<circle cx="290.4" cy="907.2" r="19.35" fill="#34dac2" stroke="#000000" stroke-width="1.5"/>
<path d="M290.4 894.3L303.3 907.2L290.4 920.1L277.5 907.2Z" fill="#000000"/>
<circle cx="376.8" cy="993.6" r="19.35" fill="#34dac2" stroke="#000000" stroke-width="1.5"/>
<path d="M376.8 980.7L389.7 993.6L376.8 1006.5L363.9 993.6Z" fill="#000000"/>
<circle cx="463.2" cy="993.6" r="19.35" fill="#d59de3" stroke="#000000" stroke-width="1.5"/>
<path transform="translate(463.2 993.6)" d="M0 -12L2.5 -8.9L-2.5 -8.9ZM8.49 -8.49L8.06 -4.53L4.53 -8.06ZM12 0L8.9 2.5L8.9 -2.5ZM8.49 8.49L4.53 8.06L8.06 4.53ZM0 12L-2.5 8.9L2.5 8.9ZM-8.49 8.49L-8.06 4.53L-4.53 8.06ZM-12 0L-8.9 -2.5L-8.9 2.5ZM-8.49 -8.49L-4.53 -8.06L-8.06 -4.53Z" fill="#43154a" stroke="#43154a" stroke-width="1.0" stroke-linejoin="round"/>
<circle cx="592.8" cy="993.6" r="19.35" fill="#d59de3" stroke="#000000" stroke-width="1.5"/>
<path transform="translate(592.8 993.6)" d="M0 -12L2.5 -8.9L-2.5 -8.9ZM8.49 -8.49L8.06 -4.53L4.53 -8.06ZM12 0L8.9 2.5L8.9 -2.5ZM8.49 8.49L4.53 8.06L8.06 4.53ZM0 12L-2.5 8.9L2.5 8.9ZM-8.49 8.49L-8.06 4.53L-4.53 8.06ZM-12 0L-8.9 -2.5L-8.9 2.5ZM-8.49 -8.49L-4.53 -8.06L-8.06 -4.53Z" fill="#43154a" stroke="#43154a" stroke-width="1.0" stroke-linejoin="round"/>
<circle cx="679.2" cy="993.6" r="19.35" fill="#d59de3" stroke="#000000" stroke-width="1.5"/>
<path transform="translate(679.2 993.6)" d="M0 -12L2.5 -8.9L-2.5 -8.9ZM8.49 -8.49L8.06 -4.53L4.53 -8.06ZM12 0L8.9 2.5L8.9 -2.5ZM8.49 8.49L4.53 8.06L8.06 4.53ZM0 12L-2.5 8.9L2.5 8.9ZM-8.49 8.49L-8.06 4.53L-4.53 8.06ZM-12 0L-8.9 -2.5L-8.9 2.5ZM-8.49 -8.49L-4.53 -8.06L-8.06 -4.53Z" fill="#43154a" stroke="#43154a" stroke-width="1.0" stroke-linejoin="round"/>
<circle cx="808.8" cy="993.6" r="19.35" fill="#d59de3" stroke="#000000" stroke-width="1.5"/>
<path transform="translate(808.8 993.6)" d="M0 -12L2.5 -8.9L-2.5 -8.9ZM8.49 -8.49L8.06 -4.53L4.53 -8.06ZM12 0L8.9 2.5L8.9 -2.5ZM8.49 8.49L4.53 8.06L8.06 4.53ZM0 12L-2.5 8.9L2.5 8.9ZM-8.49 8.49L-8.06 4.53L-4.53 8.06ZM-12 0L-8.9 -2.5L-8.9 2.5ZM-8.49 -8.49L-4.53 -8.06L-8.06 -4.53Z" fill="#43154a" stroke="#43154a" stroke-width="1.0" stroke-linejoin="round"/>
<circle cx="895.2" cy="993.6" r="19.35" fill="#34dac2" stroke="#000000" stroke-width="1.5"/>
<path d="M895.2 980.7L908.1 993.6L895.2 1006.5L882.3 993.6Z" fill="#000000"/>
<circle cx="1024.8" cy="993.6" r="19.35" fill="#34dac2" stroke="#000000" stroke-width="1.5"/>
<path d="M1024.8 980.7L1037.7 993.6L1024.8 1006.5L1011.9 993.6Z" fill="#000000"/>
<circle cx="1111.2" cy="993.6" r="19.35" fill="#34dac2" stroke="#000000" stroke-width="1.5"/>
<path d="M1111.2 980.7L1124.1 993.6L1111.2 1006.5L1098.3 993.6Z" fill="#000000"/>
<circle cx="1240.8" cy="993.6" r="19.35" fill="#34dac2" stroke="#000000" stroke-width="1.5"/>
<path d="M1240.8 980.7L1253.7 993.6L1240.8 1006.5L1227.9 993.6Z" fill="#000000"/>
<circle cx="1327.2" cy="993.6" r="19.35" fill="#76ea78" stroke="#000000" stroke-width="1.5"/>
<rect x="1317.2" y="983.6" width="20" height="20" fill="#000000"/>
<circle cx="1456.8" cy="993.6" r="19.35" fill="#76ea78" stroke="#000000" stroke-width="1.5"/>
<rect x="1446.8" y="983.6" width="20" height="20" fill="#000000"/>
<circle cx="1543.2" cy="993.6" r="19.35" fill="#76ea78" stroke="#000000" stroke-width="1.5"/>
<rect x="1533.2" y="983.6" width="20" height="20" fill="#000000"/>
<circle cx="1629.6" cy="172.8" r="19.35" fill="#d59de3" stroke="#000000" stroke-width="1.5"/>
<path transform="translate(1629.6 172.8)" d="M0 -12L2.5 -8.9L-2.5 -8.9ZM8.49 -8.49L8.06 -4.53L4.53 -8.06ZM12 0L8.9 2.5L8.9 -2.5ZM8.49 8.49L4.53 8.06L8.06 4.53ZM0 12L-2.5 8.9L2.5 8.9ZM-8.49 8.49L-8.06 4.53L-4.53 8.06ZM-12 0L-8.9 -2.5L-8.9 2.5ZM-8.49 -8.49L-4.53 -8.06L-8.06 -4.53Z" fill="#43154a" stroke="#43154a" stroke-width="1.0" stroke-linejoin="round"/>
<circle cx="1629.6" cy="259.2" r="19.35" fill="#c3cbd1" stroke="#000000" stroke-width="1.5"/>
<circle cx="1629.6" cy="259.2" r="10.2" fill="none" stroke="#000000" stroke-width="6"/>
<circle cx="1629.6" cy="388.8" r="19.35" fill="#c3cbd1" stroke="#000000" stroke-width="1.5"/>
<circle cx="1629.6" cy="388.8" r="10.2" fill="none" stroke="#000000" stroke-width="6"/>
<circle cx="1629.6" cy="475.2" r="19.35" fill="#34dac2" stroke="#000000" stroke-width="1.5"/>
<path d="M1629.6 462.3L1642.5 475.2L1629.6 488.1L1616.7 475.2Z" fill="#000000"/>
<circle cx="1629.6" cy="604.8" r="19.35" fill="#34dac2" stroke="#000000" stroke-width="1.5"/>
<path d="M1629.6 591.9L1642.5 604.8L1629.6 617.7L1616.7 604.8Z" fill="#000000"/>
<circle cx="1629.6" cy="691.2" r="19.35" fill="#d59de3" stroke="#000000" stroke-width="1.5"/>
<path transform="translate(1629.6 691.2)" d="M0 -12L2.5 -8.9L-2.5 -8.9ZM8.49 -8.49L8.06 -4.53L4.53 -8.06ZM12 0L8.9 2.5L8.9 -2.5ZM8.49 8.49L4.53 8.06L8.06 4.53ZM0 12L-2.5 8.9L2.5 8.9ZM-8.49 8.49L-8.06 4.53L-4.53 8.06ZM-12 0L-8.9 -2.5L-8.9 2.5ZM-8.49 -8.49L-4.53 -8.06L-8.06 -4.53Z" fill="#43154a" stroke="#43154a" stroke-width="1.0" stroke-linejoin="round"/>
<circle cx="1629.6" cy="820.8" r="19.35" fill="#d59de3" stroke="#000000" stroke-width="1.5"/>
<path transform="translate(1629.6 820.8)" d="M0 -12L2.5 -8.9L-2.5 -8.9ZM8.49 -8.49L8.06 -4.53L4.53 -8.06ZM12 0L8.9 2.5L8.9 -2.5ZM8.49 8.49L4.53 8.06L8.06 4.53ZM0 12L-2.5 8.9L2.5 8.9ZM-8.49 8.49L-8.06 4.53L-4.53 8.06ZM-12 0L-8.9 -2.5L-8.9 2.5ZM-8.49 -8.49L-4.53 -8.06L-8.06 -4.53Z" fill="#43154a" stroke="#43154a" stroke-width="1.0" stroke-linejoin="round"/>
<circle cx="1629.6" cy="907.2" r="19.35" fill="#76ea78" stroke="#000000" stroke-width="1.5"/>
<rect x="1619.6" y="897.2" width="20" height="20" fill="#000000"/>
<circle cx="549.6" cy="172.8" r="19.35" fill="#c3cbd1" stroke="#000000" stroke-width="1.5"/>
<circle cx="549.6" cy="172.8" r="10.2" fill="none" stroke="#000000" stroke-width="6"/>
<circle cx="549.6" cy="259.2" r="19.35" fill="#34dac2" stroke="#000000" stroke-width="1.5"/>
<path d="M549.6 246.3L562.5 259.2L549.6 272.1L536.7 259.2Z" fill="#000000"/>
<circle cx="549.6" cy="388.8" r="19.35" fill="#34dac2" stroke="#000000" stroke-width="1.5"/>
<path d="M549.6 375.9L562.5 388.8L549.6 401.7L536.7 388.8Z" fill="#000000"/>
<circle cx="549.6" cy="475.2" r="19.35" fill="#34dac2" stroke="#000000" stroke-width="1.5"/>
<path d="M549.6 462.3L562.5 475.2L549.6 488.1L536.7 475.2Z" fill="#000000"/>
<circle cx="549.6" cy="604.8" r="19.35" fill="#34dac2" stroke="#000000" stroke-width="1.5"/>
<path d="M549.6 591.9L562.5 604.8L549.6 617.7L536.7 604.8Z" fill="#000000"/>
<circle cx="549.6" cy="691.2" r="19.35" fill="#76ea78" stroke="#000000" stroke-width="1.5"/>
<rect x="539.6" y="681.2" width="20" height="20" fill="#000000"/>
<circle cx="592.8" cy="734.4" r="19.35" fill="#76ea78" stroke="#000000" stroke-width="1.5"/>
<rect x="582.8" y="724.4" width="20" height="20" fill="#000000"/>
<circle cx="679.2" cy="734.4" r="19.35" fill="#76ea78" stroke="#000000" stroke-width="1.5"/>
<rect x="669.2" y="724.4" width="20" height="20" fill="#000000"/>
<circle cx="722.4" cy="172.8" r="19.35" fill="#76ea78" stroke="#000000" stroke-width="1.5"/>
<rect x="712.4" y="162.8" width="20" height="20" fill="#000000"/>
<circle cx="722.4" cy="259.2" r="19.35" fill="#76ea78" stroke="#000000" stroke-width="1.5"/>
<rect x="712.4" y="249.2" width="20" height="20" fill="#000000"/>
<circle cx="722.4" cy="388.8" r="19.35" fill="#76ea78" stroke="#000000" stroke-width="1.5"/>
<rect x="712.4" y="378.8" width="20" height="20" fill="#000000"/>
<circle cx="722.4" cy="475.2" r="19.35" fill="#34dac2" stroke="#000000" stroke-width="1.5"/>
<path d="M722.4 462.3L735.3 475.2L722.4 488.1L709.5 475.2Z" fill="#000000"/>
<circle cx="722.4" cy="604.8" r="19.35" fill="#34dac2" stroke="#000000" stroke-width="1.5"/>
<path d="M722.4 591.9L735.3 604.8L722.4 617.7L709.5 604.8Z" fill="#000000"/>
<circle cx="722.4" cy="691.2" r="19.35" fill="#76ea78" stroke="#000000" stroke-width="1.5"/>
<rect x="712.4" y="681.2" width="20" height="20" fill="#000000"/>
<circle cx="1024.8" cy="345.6" r="19.35" fill="#c3cbd1" stroke="#000000" stroke-width="1.5"/>
<circle cx="1024.8" cy="345.6" r="10.2" fill="none" stroke="#000000" stroke-width="6"/>
<circle cx="1111.2" cy="345.6" r="19.35" fill="#c3cbd1" stroke="#000000" stroke-width="1.5"/>
<circle cx="1111.2" cy="345.6" r="10.2" fill="none" stroke="#000000" stroke-width="6"/>
<circle cx="1240.8" cy="345.6" r="19.35" fill="#c3cbd1" stroke="#000000" stroke-width="1.5"/>
<circle cx="1240.8" cy="345.6" r="10.2" fill="none" stroke="#000000" stroke-width="6"/>
<circle cx="1327.2" cy="345.6" r="19.35" fill="#c3cbd1" stroke="#000000" stroke-width="1.5"/>
<circle cx="1327.2" cy="345.6" r="10.2" fill="none" stroke="#000000" stroke-width="6"/>
<circle cx="981.6" cy="388.8" r="19.35" fill="#c3cbd1" stroke="#000000" stroke-width="1.5"/>
<circle cx="981.6" cy="388.8" r="10.2" fill="none" stroke="#000000" stroke-width="6"/>
<circle cx="981.6" cy="475.2" r="19.35" fill="#d59de3" stroke="#000000" stroke-width="1.5"/>
<path transform="translate(981.6 475.2)" d="M0 -12L2.5 -8.9L-2.5 -8.9ZM8.49 -8.49L8.06 -4.53L4.53 -8.06ZM12 0L8.9 2.5L8.9 -2.5ZM8.49 8.49L4.53 8.06L8.06 4.53ZM0 12L-2.5 8.9L2.5 8.9ZM-8.49 8.49L-8.06 4.53L-4.53 8.06ZM-12 0L-8.9 -2.5L-8.9 2.5ZM-8.49 -8.49L-4.53 -8.06L-8.06 -4.53Z" fill="#43154a" stroke="#43154a" stroke-width="1.0" stroke-linejoin="round"/>
<circle cx="981.6" cy="604.8" r="19.35" fill="#d59de3" stroke="#000000" stroke-width="1.5"/>
<path transform="translate(981.6 604.8)" d="M0 -12L2.5 -8.9L-2.5 -8.9ZM8.49 -8.49L8.06 -4.53L4.53 -8.06ZM12 0L8.9 2.5L8.9 -2.5ZM8.49 8.49L4.53 8.06L8.06 4.53ZM0 12L-2.5 8.9L2.5 8.9ZM-8.49 8.49L-8.06 4.53L-4.53 8.06ZM-12 0L-8.9 -2.5L-8.9 2.5ZM-8.49 -8.49L-4.53 -8.06L-8.06 -4.53Z" fill="#43154a" stroke="#43154a" stroke-width="1.0" stroke-linejoin="round"/>
<circle cx="981.6" cy="691.2" r="19.35" fill="#c3cbd1" stroke="#000000" stroke-width="1.5"/>
<circle cx="981.6" cy="691.2" r="10.2" fill="none" stroke="#000000" stroke-width="6"/>
<circle cx="1370.4" cy="388.8" r="19.35" fill="#c3cbd1" stroke="#000000" stroke-width="1.5"/>
<circle cx="1370.4" cy="388.8" r="10.2" fill="none" stroke="#000000" stroke-width="6"/>
<circle cx="1370.4" cy="475.2" r="19.35" fill="#34dac2" stroke="#000000" stroke-width="1.5"/>
<path d="M1370.4 462.3L1383.3 475.2L1370.4 488.1L1357.5 475.2Z" fill="#000000"/>
<circle cx="1370.4" cy="604.8" r="19.35" fill="#34dac2" stroke="#000000" stroke-width="1.5"/>
<path d="M1370.4 591.9L1383.3 604.8L1370.4 617.7L1357.5 604.8Z" fill="#000000"/>
<circle cx="1370.4" cy="691.2" r="19.35" fill="#d59de3" stroke="#000000" stroke-width="1.5"/>
<path transform="translate(1370.4 691.2)" d="M0 -12L2.5 -8.9L-2.5 -8.9ZM8.49 -8.49L8.06 -4.53L4.53 -8.06ZM12 0L8.9 2.5L8.9 -2.5ZM8.49 8.49L4.53 8.06L8.06 4.53ZM0 12L-2.5 8.9L2.5 8.9ZM-8.49 8.49L-8.06 4.53L-4.53 8.06ZM-12 0L-8.9 -2.5L-8.9 2.5ZM-8.49 -8.49L-4.53 -8.06L-8.06 -4.53Z" fill="#43154a" stroke="#43154a" stroke-width="1.0" stroke-linejoin="round"/>
<circle cx="1024.8" cy="734.4" r="19.35" fill="#c3cbd1" stroke="#000000" stroke-width="1.5"/>
<circle cx="1024.8" cy="734.4" r="10.2" fill="none" stroke="#000000" stroke-width="6"/>
<circle cx="1111.2" cy="734.4" r="19.35" fill="#c3cbd1" stroke="#000000" stroke-width="1.5"/>
<circle cx="1111.2" cy="734.4" r="10.2" fill="none" stroke="#000000" stroke-width="6"/>
<circle cx="1240.8" cy="734.4" r="19.35" fill="#c3cbd1" stroke="#000000" stroke-width="1.5"/>
<circle cx="1240.8" cy="734.4" r="10.2" fill="none" stroke="#000000" stroke-width="6"/>
<circle cx="1327.2" cy="734.4" r="19.35" fill="#d59de3" stroke="#000000" stroke-width="1.5"/>
<path transform="translate(1327.2 734.4)" d="M0 -12L2.5 -8.9L-2.5 -8.9ZM8.49 -8.49L8.06 -4.53L4.53 -8.06ZM12 0L8.9 2.5L8.9 -2.5ZM8.49 8.49L4.53 8.06L8.06 4.53ZM0 12L-2.5 8.9L2.5 8.9ZM-8.49 8.49L-8.06 4.53L-4.53 8.06ZM-12 0L-8.9 -2.5L-8.9 2.5ZM-8.49 -8.49L-4.53 -8.06L-8.06 -4.53Z" fill="#43154a" stroke="#43154a" stroke-width="1.0" stroke-linejoin="round"/>
<g>
<circle cx="58.4" cy="58.2" r="31.5" fill="none" stroke="#12000a" stroke-width="1.6"/>
<path d="M35.2 49.5C35.2 43.5 40.5 40 46.5 40C51.5 40 55.5 42 58 45.2C60.5 42 64.5 40 69.5 40C75.5 40 81.6 43.5 81.6 49.5C81.6 56 81.6 62 80.6 66C79.8 70 78.6 73.5 77.2 76C75.5 72.8 73 70.2 69.5 69.6C66 69.2 63.5 69.4 61.5 70C60.3 70.9 59.2 71.8 58 71.8C56.8 71.8 55.7 70.9 54.5 70C52.5 69.4 50 69.2 46.8 69.6C43.3 70.2 40.8 72.8 39.2 76C37.8 73.5 36.8 70 36.2 66C35.4 62 35.2 56 35.2 49.5Z" fill="#0a0006"/>
<g transform="translate(0,62.2) scale(1,1.5)" style="will-change:transform"><text x="41.7 52.3 60.8 68.5" y="0" font-family="'Liberation Sans', sans-serif" font-weight="700" font-size="10.3" fill="#c86692" stroke="#c86692" stroke-width="0.5" stroke-linejoin="round">HELP</text></g>
</g>
<circle cx="1861.5" cy="58.4" r="10.4" fill="none" stroke="#12000a" stroke-width="2.5"/>
</svg>
</body>
</html>
